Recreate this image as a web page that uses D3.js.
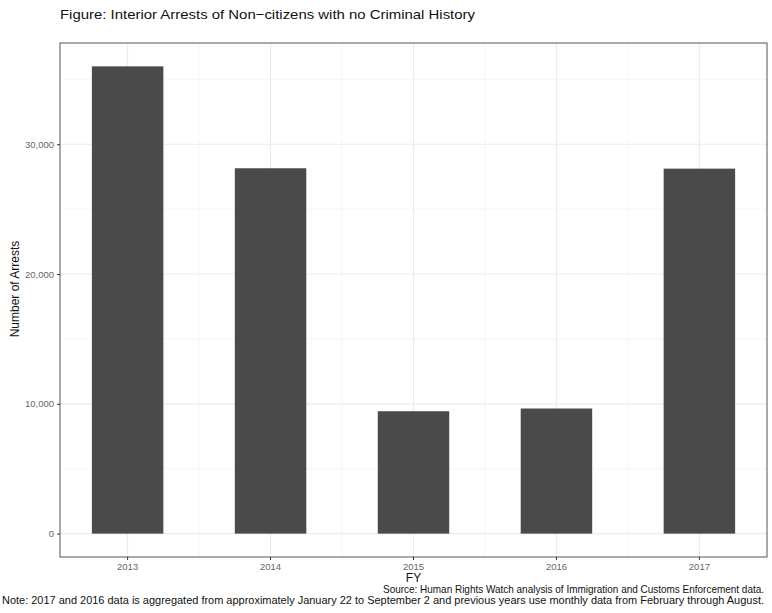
<!DOCTYPE html>
<html>
<head>
<meta charset="utf-8">
<script src="https://cdn.jsdelivr.net/npm/d3@7"></script>
<style>
  body { margin: 0; background: #fff; }
  svg { display: block; font-family: "Liberation Sans", Arial, sans-serif; }
</style>
</head>
<body>
<svg id="chart" width="772" height="613"></svg>
<script>
const years = ["2013", "2014", "2015", "2016", "2017"];
const arrests = [36000, 28150, 9430, 9640, 28120];
const yTicks = [0, 10000, 20000, 30000];
const yMinor = [5000, 15000, 25000, 35000];
const titleText = "Figure: Interior Arrests of Non\u2212citizens with no Criminal History";
const captionLines = [
  "Source: Human Rights Watch analysis of Immigration and Customs Enforcement data.",
  "Note: 2017 and 2016 data is aggregated from approximately January 22 to September 2 and previous years use monthly data from February through August."
];

const svg = d3.select("#chart");
const panel = { left: 60, right: 767, top: 43, bottom: 557 };

const maxV = d3.max(arrests);
const x = d3.scaleBand().domain(years).range([panel.left, panel.right])
  .paddingInner(0.5).paddingOuter(0.223);
const y = d3.scaleLinear().domain([-0.05 * maxV, 1.05 * maxV]).range([panel.bottom, panel.top]);

svg.append("rect").attr("x", panel.left).attr("y", panel.top)
  .attr("width", panel.right - panel.left).attr("height", panel.bottom - panel.top)
  .attr("fill", "#fff");

// minor grid
svg.append("g").selectAll("line").data(yMinor).join("line")
  .attr("x1", panel.left).attr("x2", panel.right)
  .attr("y1", d => y(d)).attr("y2", d => y(d))
  .attr("stroke", "#f2f2f2").attr("stroke-width", 0.8);
const centers = years.map(d => x(d) + x.bandwidth() / 2);
const midpoints = centers.slice(0, -1).map((c, i) => (c + centers[i + 1]) / 2);
svg.append("g").selectAll("line").data(midpoints).join("line")
  .attr("x1", d => d).attr("x2", d => d)
  .attr("y1", panel.top).attr("y2", panel.bottom)
  .attr("stroke", "#f2f2f2").attr("stroke-width", 0.8);

// major grid
svg.append("g").selectAll("line").data(yTicks).join("line")
  .attr("x1", panel.left).attr("x2", panel.right)
  .attr("y1", d => y(d)).attr("y2", d => y(d))
  .attr("stroke", "#ebebeb").attr("stroke-width", 1.1);
svg.append("g").selectAll("line").data(centers).join("line")
  .attr("x1", d => d).attr("x2", d => d)
  .attr("y1", panel.top).attr("y2", panel.bottom)
  .attr("stroke", "#ebebeb").attr("stroke-width", 1.1);

// bars
svg.append("g").selectAll("rect").data(years).join("rect")
  .attr("x", d => x(d))
  .attr("width", x.bandwidth())
  .attr("y", (d, i) => y(arrests[i]))
  .attr("height", (d, i) => y(0) - y(arrests[i]))
  .attr("fill", "#4a4a4b");

// panel border
svg.append("rect").attr("x", panel.left).attr("y", panel.top)
  .attr("width", panel.right - panel.left).attr("height", panel.bottom - panel.top)
  .attr("fill", "none").attr("stroke", "#555").attr("stroke-width", 1);

// axes
const yAxis = d3.axisLeft(y).tickValues(yTicks).tickSize(3).tickPadding(3)
  .tickFormat(d3.format(","));
const gy = svg.append("g").attr("transform", `translate(${panel.left},0)`).call(yAxis);
gy.select(".domain").remove();
gy.selectAll(".tick line").attr("stroke", "#333");
gy.selectAll(".tick text").attr("fill", "#666").attr("font-size", 9.5)
  .attr("font-family", "Liberation Sans, Arial, sans-serif");

const xAxis = d3.axisBottom(x).tickSize(3).tickPadding(3);
const gx = svg.append("g").attr("transform", `translate(0,${panel.bottom})`).call(xAxis);
gx.select(".domain").remove();
gx.selectAll(".tick line").attr("stroke", "#333");
gx.selectAll(".tick text").attr("fill", "#666").attr("font-size", 9.5)
  .attr("font-family", "Liberation Sans, Arial, sans-serif");

// titles
svg.append("text").attr("x", panel.left).attr("y", 19)
  .attr("font-size", 13.5).attr("fill", "#111")
  .attr("textLength", 415).attr("lengthAdjust", "spacingAndGlyphs")
  .text(titleText);

svg.append("text").attr("x", (panel.left + panel.right) / 2).attr("y", 582)
  .attr("text-anchor", "middle").attr("font-size", 12).attr("fill", "#111").text("FY");

svg.append("text")
  .attr("transform", `translate(19,289) rotate(-90)`)
  .attr("text-anchor", "middle").attr("font-size", 12).attr("fill", "#111")
  .text("Number of Arrests");

const capStarts = [383, 2];
svg.append("g").selectAll("text").data(captionLines).join("text")
  .attr("x", (d, i) => capStarts[i]).attr("y", (d, i) => 593 + i * 11)
  .attr("font-size", 10.2).attr("fill", "#111")
  .attr("textLength", (d, i) => 764 - capStarts[i]).attr("lengthAdjust", "spacingAndGlyphs")
  .text(d => d);
</script>
</body>
</html>
